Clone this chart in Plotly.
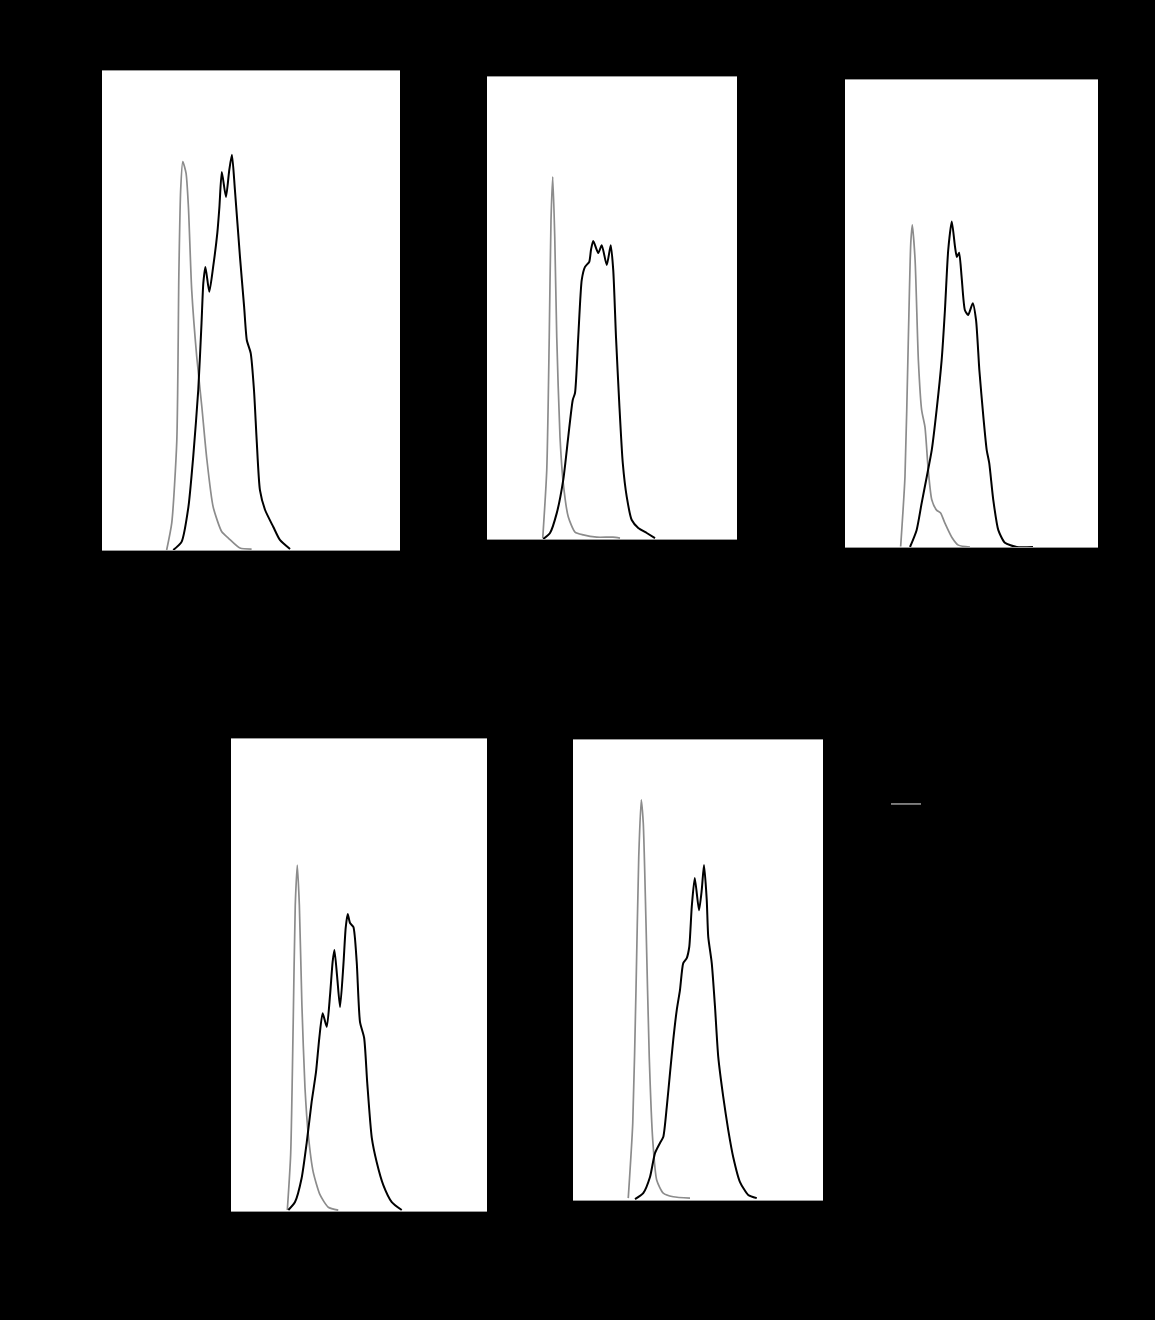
import plotly.graph_objects as go

W, H = 1155, 1320

# ---- data (x: fluorescence, % of axis; y: % of panel max) ----
p1_iso_x = [21.7, 23.4, 25.1, 25.8, 26.4, 27.1, 28.2, 29.0, 30.1, 31.8, 33.5, 35.1, 37.3, 40.2, 42.4, 46.3, 50.2]
p1_iso_y = [0, 5.6, 22.8, 57.8, 75.2, 81.1, 78.7, 71.6, 54.3, 40.3, 29.9, 19.4, 9.0, 3.8, 2.5, 0.4, 0.2]
p1_ab_x = [23.9, 26.7, 29.0, 30.6, 32.3, 33.4, 34.0, 34.7, 36.0, 37.3, 38.7, 39.4, 40.2, 41.6, 42.7, 43.6, 44.6,
           46.3, 47.7, 48.6, 49.9, 51.0, 51.9, 53.0, 54.7, 57.5, 59.7, 63.1]
p1_ab_y = [0, 1.7, 9.0, 19.4, 33.4, 47.4, 55.7, 59.1, 53.9, 59.1, 66.2, 71.6, 78.9, 73.7, 79.3, 82.5, 75.2,
           61.2, 50.7, 43.8, 41.1, 33.4, 23.0, 12.5, 8.4, 4.8, 2.1, 0.2]

p2_iso_x = [22.3, 23.9, 24.9, 25.6, 26.3, 27.1, 27.9, 29.2, 30.5, 32.5, 35.2, 38.5, 43.9, 50.4, 53.2]
p2_iso_y = [0.2, 14.9, 43.7, 69.0, 78.4, 65.4, 43.7, 22.1, 12.1, 4.8, 1.5, 0.9, 0.4, 0.4, 0.2]
p2_ab_x = [22.5, 25.2, 27.9, 30.5, 32.5, 34.3, 35.2, 36.5, 37.9, 39.2, 40.9, 41.6, 42.5, 44.5, 45.9, 47.9, 49.5,
           50.5, 51.6, 52.9, 54.3, 55.9, 57.9, 60.5, 63.9, 67.2]
p2_ab_y = [0, 1.3, 5.6, 12.8, 22.1, 30.1, 31.6, 43.7, 56.1, 58.9, 60.0, 62.6, 64.5, 61.9, 63.6, 59.3, 63.6,
           58.2, 43.7, 29.4, 16.5, 9.1, 4.1, 2.4, 1.3, 0.2]

p3_iso_x = [22.0, 23.7, 25.0, 26.0, 26.6, 27.7, 29.0, 30.3, 31.6, 32.9, 34.3, 36.2, 37.8, 39.5, 42.2, 44.8, 49.4]
p3_iso_y = [0.1, 15.0, 43.7, 65.1, 69.0, 61.5, 40.0, 29.3, 25.7, 16.5, 10.1, 7.9, 7.3, 5.1, 2.1, 0.4, 0]
p3_ab_x = [25.7, 28.3, 30.3, 32.3, 34.3, 36.2, 38.2, 39.5, 40.8, 42.2, 43.5, 44.2, 45.1, 46.1, 47.4, 48.7, 50.5,
           51.8, 53.1, 54.7, 56.0, 57.0, 58.6, 60.6, 63.2, 67.9, 74.3]
p3_ab_y = [0, 3.6, 9.4, 15.0, 20.8, 29.3, 40.0, 50.7, 63.6, 69.7, 64.2, 62.1, 63.0, 57.8, 50.7, 49.7, 52.2,
           48.6, 37.9, 27.8, 20.8, 18.0, 10.1, 3.6, 0.9, 0, 0]

p4_iso_x = [22.0, 23.3, 24.3, 25.1, 25.9, 26.7, 27.7, 28.9, 30.2, 32.1, 34.8, 38.0, 41.9]
p4_iso_y = [0.2, 11.9, 40.0, 64.8, 73.3, 64.8, 43.6, 26.1, 16.1, 8.3, 3.4, 0.8, 0.2]
p4_ab_x = [22.4, 25.0, 27.6, 29.6, 31.5, 33.2, 34.5, 35.8, 37.4, 38.7, 39.7, 40.4, 41.5, 42.6, 43.9, 44.8, 45.6,
           46.5, 47.8, 49.1, 50.4, 52.0, 53.2, 55.0, 56.9, 59.5, 62.8, 66.7]
p4_ab_y = [0.2, 1.9, 7.0, 14.6, 23.1, 29.4, 36.7, 41.9, 39.0, 45.8, 52.8, 55.3, 49.4, 43.2, 52.1, 60.0, 62.9,
           61.0, 60.2, 52.8, 40.0, 36.7, 27.3, 15.5, 10.4, 5.5, 1.9, 0.2]

p5_iso_x = [22.1, 23.9, 25.2, 26.3, 27.3, 28.1, 29.2, 30.5, 31.9, 33.5, 36.1, 40.1, 46.8]
p5_iso_y = [0.4, 16.7, 45.7, 74.6, 87.0, 82.0, 60.2, 31.1, 13.0, 4.3, 1.5, 0.7, 0.4]
p5_ab_x = [24.8, 28.1, 30.8, 32.8, 34.8, 36.1, 37.5, 38.8, 40.1, 41.5, 42.8, 44.1, 45.5, 46.5, 47.5, 48.7, 50.4,
           51.5, 52.4, 53.5, 54.1, 55.5, 56.8, 58.1, 60.1, 62.1, 64.1, 66.8, 70.1, 73.5]
p5_ab_y = [0.2, 1.5, 5.0, 10.2, 12.4, 13.7, 20.2, 27.6, 34.8, 41.3, 45.7, 51.5, 52.6, 55.0, 63.7, 70.0, 63.0,
           67.4, 72.8, 65.2, 57.2, 51.5, 42.0, 31.1, 22.4, 15.2, 9.3, 3.9, 1.1, 0.4]

series_names = ["Isotype control", "Antibody"]

panels = [
    (p1_iso_x, p1_iso_y, p1_ab_x, p1_ab_y),
    (p2_iso_x, p2_iso_y, p2_ab_x, p2_ab_y),
    (p3_iso_x, p3_iso_y, p3_ab_x, p3_ab_y),
    (p4_iso_x, p4_iso_y, p4_ab_x, p4_ab_y),
    (p5_iso_x, p5_iso_y, p5_ab_x, p5_ab_y),
]

# ---- layout: panel boxes in pixels (left, right, top, bottom) ----
boxes = [(102, 400, 71, 550), (487, 737, 77, 539), (845, 1098, 80, 547),
         (231, 487, 739, 1211), (573, 823, 740, 1200)]

ISO_COLOR = "#8c8c8c"
AB_COLOR = "#000000"

fig = go.Figure()
layout = dict(
    width=W, height=H, autosize=False,
    paper_bgcolor="black", plot_bgcolor="white",
    margin=dict(l=0, r=0, t=0, b=0),
    showlegend=True,
    legend=dict(x=886 / W, y=1 - 789 / H, xanchor="left", yanchor="top",
                bgcolor="rgba(0,0,0,0)", font=dict(color="black", size=13, family="Arial"),
                tracegroupgap=4),
)

for i, ((ix, iy, ax, ay), (l, r, t, b)) in enumerate(zip(panels, boxes)):
    n = "" if i == 0 else str(i + 1)
    xa, ya = "x" + n, "y" + n
    fig.add_trace(go.Scatter(x=ix, y=iy, mode="lines", name=series_names[0], legendgroup="iso",
                             showlegend=(i == 0), line=dict(color=ISO_COLOR, width=1.7, shape="spline", smoothing=0.6),
                             xaxis=xa, yaxis=ya))
    fig.add_trace(go.Scatter(x=ax, y=ay, mode="lines", name=series_names[1], legendgroup="ab",
                             showlegend=(i == 0), line=dict(color=AB_COLOR, width=2.0, shape="spline", smoothing=0.6),
                             xaxis=xa, yaxis=ya))
    layout["xaxis" + n] = dict(domain=[l / W, r / W], range=[0, 100], showgrid=False, zeroline=False,
                               showticklabels=False, ticks="", showline=True, linecolor="#9a9a9a",
                               linewidth=1, mirror=True, anchor=ya, fixedrange=True)
    layout["yaxis" + n] = dict(domain=[1 - b / H, 1 - t / H], range=[0, 100], showgrid=False, zeroline=False,
                               showticklabels=False, ticks="", showline=False, anchor=xa, fixedrange=True)

fig.update_layout(**layout)

fig.write_html("out.html", config={"displayModeBar": False},
               post_script="document.body.style.margin='0';document.body.style.background='black';")
